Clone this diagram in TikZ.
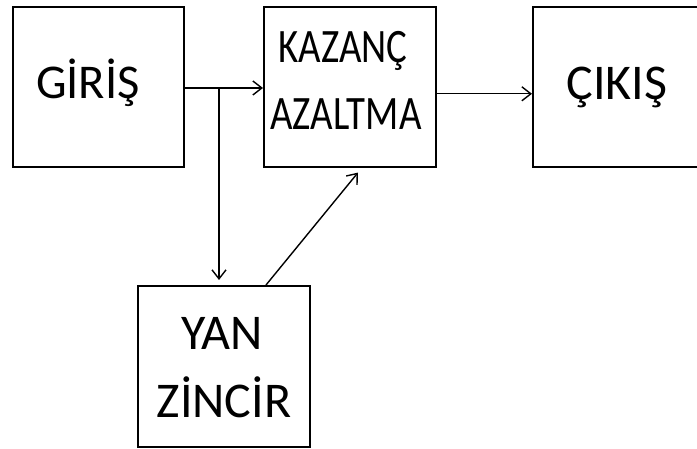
\documentclass[tikz,border=0pt]{standalone}
\usepackage{fontspec}
\setmainfont{Carlito}
\usetikzlibrary{arrows.meta}
\begin{document}
\begin{tikzpicture}[x=1pt,y=1pt,
  box/.style={draw=black,line width=1.6pt,inner sep=0pt,anchor=north west},
  lbl/.style={anchor=base,inner sep=0pt,font=\fontsize{50}{56}\selectfont},
  cond/.style={anchor=base,inner sep=0pt,font=\fontsize{48}{56}\selectfont,xscale=0.81,transform shape},
  arr/.style={line width=1.4pt,-{Straight Barb[length=9pt,width=14pt,line width=1.4pt]}}]
\useasboundingbox (0,0) rectangle (697,449);
% boxes (image coords: y -> 449-y)
\node[box,minimum width=171pt,minimum height=160pt] (g) at (12,443) {};
\node[box,minimum width=172pt,minimum height=160pt] (k) at (263,443) {};
\node[box,minimum width=170pt,minimum height=160pt] (c) at (532,443) {};
\node[box,minimum width=172pt,minimum height=161pt] (y) at (137,164) {};
% texts
\node[lbl,font=\fontsize{48.5}{56}\selectfont] (tg) at (88,350) {GİRİŞ};
\node[cond] (tk1) at (343,386) {KAZANÇ};
\node[cond] (tk2) at (346,319) {AZALTMA};
\node[lbl] (tc) at (617,349) {ÇIKIŞ};
\node[lbl] (ty1) at (222,99) {YAN};
\node[lbl] (ty2) at (224,31) {ZİNCİR};
% connectors
\coordinate (br) at (219,361);
\draw[arr] (g.east |- br) -- (k.west |- br);
\draw[arr] (br) -- ([yshift=5pt]y.north -| br);
\draw[arr] ([xshift=129pt]y.north west) -- ([xshift=95pt,yshift=-5pt]k.south west);
\draw[arr] ([yshift=-7pt]k.east) -- ([yshift=-7pt]c.west);
\end{tikzpicture}
\end{document}
